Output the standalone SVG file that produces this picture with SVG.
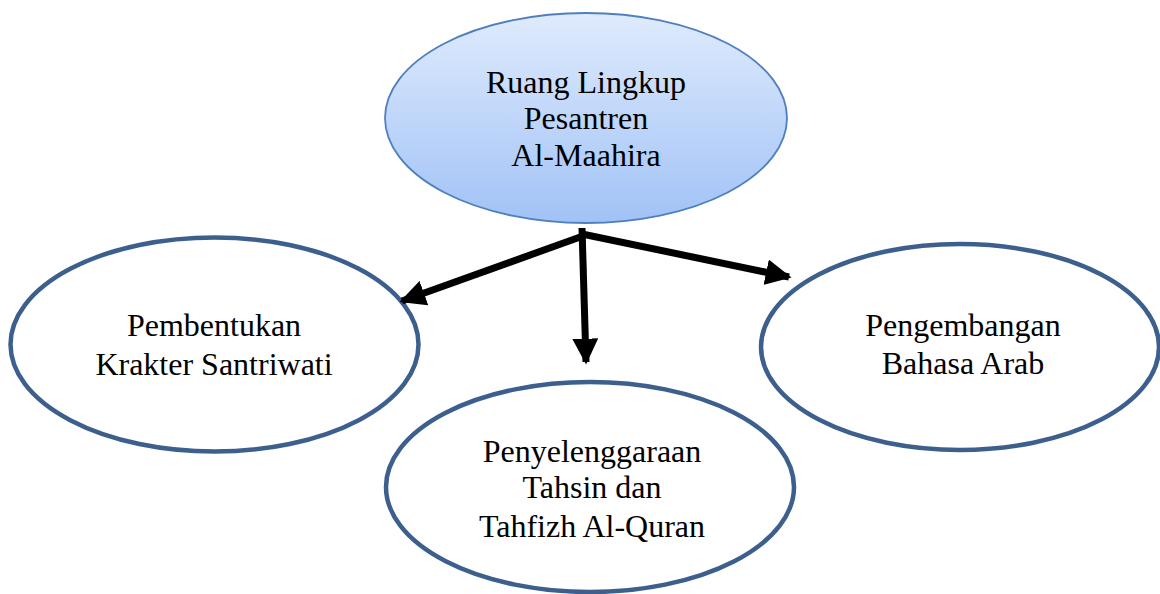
<svg xmlns="http://www.w3.org/2000/svg" width="1160" height="594" viewBox="0 0 1160 594">
<style>
.t{font-family:"Liberation Serif","Times New Roman",serif;font-size:32px;fill:#000;text-anchor:middle}
.o{fill:#fff;stroke:#3c5f8e;stroke-width:4.5}
.c{stroke:#000;stroke-width:7;fill:none}
</style>
<defs>
<linearGradient id="g" x1="0" y1="0" x2="0" y2="1">
<stop offset="0" stop-color="#dfebfd"/>
<stop offset="1" stop-color="#a1c2f6"/>
</linearGradient>
<marker id="a" viewBox="0 0 10 10" refX="9" refY="5" markerWidth="3.7" markerHeight="3.7" markerUnits="strokeWidth" orient="auto">
<path d="M0,0 L10,5 L0,10 Z" fill="#000"/>
</marker>
</defs>
<g id="n0">
<ellipse cx="586" cy="118" rx="201" ry="105" fill="url(#g)" stroke="#4f7fbf" stroke-width="1.8"/>
<text class="t" x="586" y="93">Ruang Lingkup</text>
<text class="t" x="586" y="129">Pesantren</text>
<text class="t" x="586" y="166">Al-Maahira</text>
</g>
<g id="n1">
<ellipse class="o" cx="214.5" cy="344.5" rx="204" ry="107"/>
<text class="t" x="214" y="336">Pembentukan</text>
<text class="t" x="214" y="375">Krakter Santriwati</text>
</g>
<g id="n2">
<ellipse class="o" cx="960" cy="347" rx="199" ry="103"/>
<text class="t" x="963" y="336">Pengembangan</text>
<text class="t" x="963" y="374">Bahasa Arab</text>
</g>
<g id="n3">
<ellipse class="o" cx="590" cy="487" rx="204" ry="105"/>
<text class="t" x="592" y="462">Penyelenggaraan</text>
<text class="t" x="592" y="498">Tahsin dan</text>
<text class="t" x="592" y="537">Tahfizh Al-Quran</text>
</g>
<g id="connectors">
<line class="c" x1="583" y1="236" x2="402" y2="301" marker-end="url(#a)"/>
<line class="c" x1="582" y1="228" x2="586" y2="362" marker-end="url(#a)"/>
<line class="c" x1="582" y1="234" x2="789" y2="277" marker-end="url(#a)"/>
</g>
</svg>
